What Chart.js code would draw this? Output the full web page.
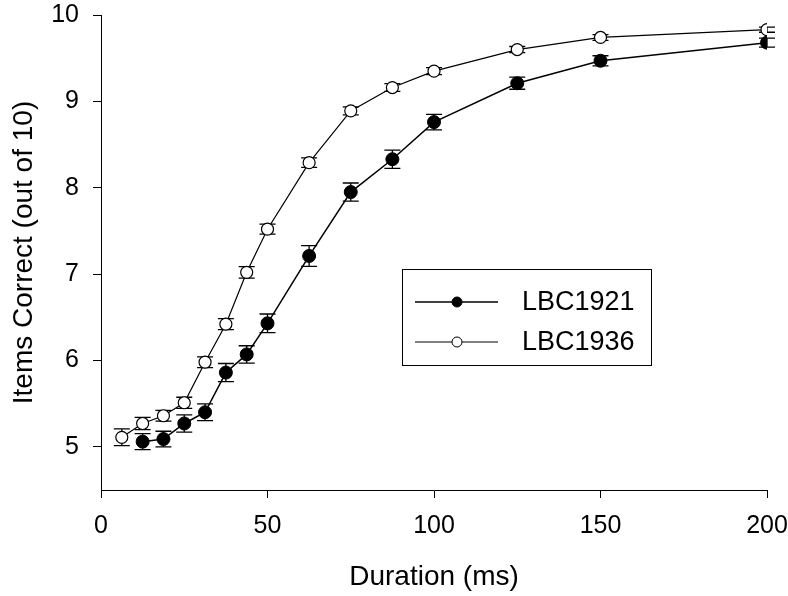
<!DOCTYPE html>
<html>
<head>
<meta charset="utf-8">
<script src="https://cdn.jsdelivr.net/npm/chart.js@4/dist/chart.umd.min.js"></script>
<style>
  body { margin: 0; background: #fff; }
  #wrap { width: 788px; height: 596px; }
</style>
</head>
<body>
<div id="wrap"><canvas id="chart"></canvas></div>
<script>
// Data
let durations = [6.25, 12.5, 18.75, 25, 31.25, 37.5, 43.75, 50, 62.5, 75, 87.5, 100, 125, 150, 200];
let lbc1921 = [null, 5.06, 5.09, 5.27, 5.40, 5.86, 6.07, 6.43, 7.21, 7.95, 8.33, 8.76, 9.21, 9.47, 9.68];
let lbc1921Err = [null, 0.093, 0.09, 0.10, 0.097, 0.105, 0.10, 0.108, 0.12, 0.105, 0.105, 0.09, 0.07, 0.058, 0.052];
let lbc1936 = [5.11, 5.27, 5.36, 5.51, 5.98, 6.42, 7.02, 7.52, 8.29, 8.89, 9.16, 9.35, 9.60, 9.74, 9.83];
let lbc1936Err = [0.097, 0.07, 0.062, 0.064, 0.062, 0.064, 0.066, 0.058, 0.055, 0.047, 0.045, 0.04, 0.035, 0.033, 0.03];
let xTicks = [0, 50, 100, 150, 200];
let yTicks = [5, 6, 7, 8, 9, 10];

const FONT = "'Liberation Sans', Arial, sans-serif";

function toPoints(values, errors) {
  let pts = [];
  for (let i = 0; i < durations.length; i++) {
    if (values[i] === null) continue;
    pts.push({ x: durations[i], y: values[i], err: errors[i] });
  }
  return pts;
}

// error bars drawn under the markers
const errorBars = {
  id: "errorBars",
  beforeDatasetsDraw(chart) {
    const ctx = chart.ctx;
    const xs = chart.scales.x;
    const ys = chart.scales.y;
    ctx.save();
    ctx.strokeStyle = "#000";
    ctx.lineWidth = 1.3;
    chart.data.datasets.forEach((ds) => {
      ds.data.forEach((p) => {
        let px = xs.getPixelForValue(p.x);
        let top = ys.getPixelForValue(p.y + p.err);
        let bot = ys.getPixelForValue(p.y - p.err);
        let cap = 8;
        ctx.beginPath();
        ctx.moveTo(px, top);
        ctx.lineTo(px, bot);
        ctx.moveTo(px - cap, top);
        ctx.lineTo(px + cap, top);
        ctx.moveTo(px - cap, bot);
        ctx.lineTo(px + cap, bot);
        ctx.stroke();
      });
    });
    ctx.restore();
  },
};

// boxed legend inside the plot
const boxLegend = {
  id: "boxLegend",
  afterDraw(chart) {
    const ctx = chart.ctx;
    ctx.save();
    ctx.strokeStyle = "#000";
    ctx.lineWidth = 1;
    ctx.strokeRect(402.5, 269.5, 249, 96);
    ctx.font = "27px " + FONT;
    ctx.textBaseline = "middle";
    ctx.fillStyle = "#000";
    chart.data.datasets.forEach((ds, i) => {
      let y = 302 + i * 40;
      ctx.beginPath();
      ctx.lineWidth = ds.borderWidth;
      ctx.moveTo(415, y);
      ctx.lineTo(498, y);
      ctx.stroke();
      ctx.beginPath();
      ctx.arc(457, y, 5, 0, Math.PI * 2);
      ctx.fillStyle = ds.pointBackgroundColor;
      ctx.fill();
      ctx.lineWidth = 1;
      ctx.stroke();
      ctx.fillStyle = "#000";
      ctx.fillText(ds.label, 522, y + 1);
    });
    ctx.restore();
  },
};

const ctx = document.getElementById("chart").getContext("2d");

new Chart(ctx, {
  type: "line",
  data: {
    datasets: [
      {
        label: "LBC1921",
        data: toPoints(lbc1921, lbc1921Err),
        borderColor: "#000",
        borderWidth: 1.5,
        pointRadius: 6.5,
        pointBackgroundColor: "#000",
        pointBorderColor: "#000",
        pointBorderWidth: 1,
      },
      {
        label: "LBC1936",
        data: toPoints(lbc1936, lbc1936Err),
        borderColor: "#000",
        borderWidth: 1.2,
        pointRadius: 6,
        pointBackgroundColor: "#fff",
        pointBorderColor: "#000",
        pointBorderWidth: 1.2,
      },
    ],
  },
  options: {
    responsive: true,
    maintainAspectRatio: false,
    animation: false,
    layout: { padding: { top: 15, right: 21, left: 0, bottom: 0 } },
    plugins: { legend: { display: false }, tooltip: { enabled: false } },
    scales: {
      x: {
        type: "linear",
        min: 0,
        max: 200,
        afterBuildTicks: (axis) => {
          axis.ticks = xTicks.map((v) => ({ value: v }));
        },
        afterFit: (axis) => {
          axis.height = 106;
          axis.paddingLeft = 0;
          axis.paddingRight = 0;
        },
        grid: { drawOnChartArea: false, color: "#000", tickLength: 8 },
        border: { color: "#000", width: 1 },
        ticks: { color: "#000", padding: 13, font: { family: FONT, size: 25 } },
        title: {
          display: true,
          text: "Duration (ms)",
          color: "#000",
          font: { family: FONT, size: 28 },
          padding: { top: 0, bottom: 2 },
        },
      },
      y: {
        min: 4.5,
        max: 10,
        afterBuildTicks: (axis) => {
          axis.ticks = yTicks.map((v) => ({ value: v }));
        },
        afterFit: (axis) => {
          axis.width = 101;
          axis.paddingTop = 0;
          axis.paddingBottom = 0;
        },
        grid: { drawOnChartArea: false, color: "#000", tickLength: 8 },
        border: { color: "#000", width: 1 },
        ticks: { color: "#000", padding: 14, font: { family: FONT, size: 25 } },
        title: {
          display: true,
          text: "Items Correct (out of 10)",
          color: "#000",
          font: { family: FONT, size: 28 },
          padding: { top: 7, bottom: 0 },
        },
      },
    },
  },
  plugins: [errorBars, boxLegend],
});
</script>
</body>
</html>
